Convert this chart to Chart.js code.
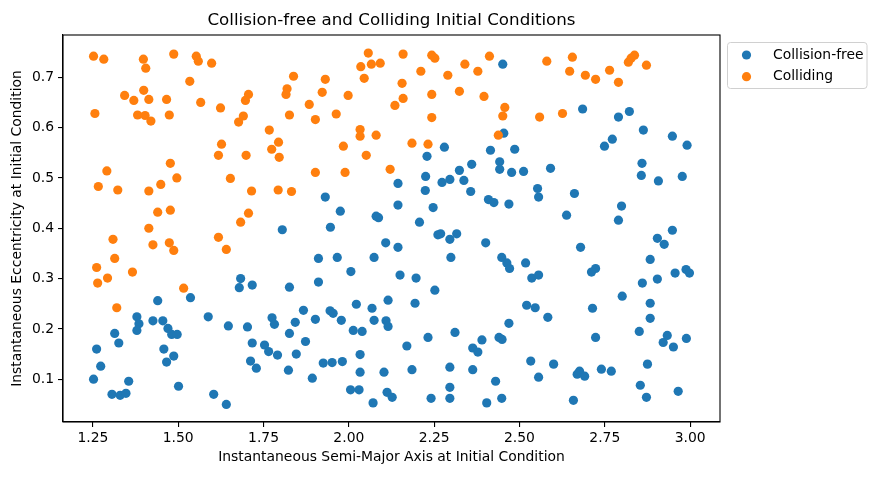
<!DOCTYPE html>
<html>
<head>
<meta charset="utf-8">
<script src="https://cdn.jsdelivr.net/npm/chart.js@4.4.1/dist/chart.umd.min.js"></script>
<style>
  html, body { margin: 0; padding: 0; background: #fff; }
  #wrap { width: 873px; height: 480px; }
</style>
</head>
<body>
<div id="wrap"><canvas id="scatterChart" width="873" height="480"></canvas></div>
<script>
// semi-major axis / eccentricity
const freeA = [1.805,1.683,1.679,1.717,1.536,1.440,1.379,1.385,1.379,1.426,1.455,1.470,1.481,1.497,1.314,1.326,1.261,1.273,1.252,1.355,1.306,1.330,1.347,1.458,1.487,1.466,1.501,1.588,1.647,1.703,1.775,1.782,1.717,1.753,1.765,1.791,1.712,1.729,1.604,1.641,
  2.280,2.229,2.415,2.360,2.324,2.225,2.144,2.273,2.296,2.337,2.224,2.357,1.931,2.409,2.425,2.144,2.247,1.975,2.080,2.087,2.207,1.946,
  2.261,2.269,2.296,2.316,2.108,2.144,2.401,1.911,1.966,2.074,2.299,2.006,2.150,2.197,1.826,1.911,2.252,2.022,2.068,2.115,2.194,1.867,1.945,1.954,1.978,1.902,1.843,2.074,2.109,2.115,2.013,2.039,1.826,1.873,2.311,2.232,2.170,2.390,2.363,2.378,1.846,1.823,1.893,1.925,1.951,1.981,2.033,2.033,2.103,2.185,2.296,2.363,2.430,2.005,2.030,2.112,2.127,2.071,2.241,2.296,2.296,2.404,
  2.451,2.685,2.790,2.822,2.863,2.948,2.991,2.454,2.772,2.749,2.486,2.442,2.442,2.477,2.512,2.591,2.859,2.857,2.907,2.977,2.553,2.556,2.661,2.469,2.799,2.638,2.790,
  2.948,2.904,2.924,2.679,2.448,2.463,2.471,2.518,2.536,2.556,2.723,2.711,2.883,2.904,2.860,2.956,2.988,2.998,2.801,2.883,2.521,2.546,2.583,2.714,2.883,2.469,2.440,2.449,2.723,2.851,2.933,2.921,2.951,2.989,2.533,2.600,2.556,2.676,2.669,2.691,2.740,2.769,2.875,2.854,2.872,2.965,2.658,2.448];
const freeE = [0.397,0.300,0.282,0.287,0.262,0.256,0.224,0.210,0.197,0.216,0.216,0.201,0.189,0.189,0.191,0.172,0.160,0.126,0.100,0.096,0.070,0.068,0.072,0.160,0.146,0.134,0.086,0.224,0.206,0.204,0.222,0.209,0.172,0.168,0.155,0.148,0.136,0.122,0.070,0.050,
  0.561,0.543,0.555,0.527,0.515,0.503,0.489,0.491,0.497,0.495,0.475,0.473,0.462,0.457,0.451,0.446,0.441,0.434,0.424,0.421,0.412,0.402,
  0.387,0.389,0.378,0.389,0.371,0.362,0.371,0.340,0.342,0.342,0.342,0.314,0.307,0.301,0.283,0.293,0.277,0.249,0.241,0.257,0.251,0.237,0.236,0.231,0.217,0.219,0.213,0.217,0.216,0.205,0.197,0.195,0.191,0.175,0.193,0.183,0.166,0.178,0.162,0.154,0.150,0.118,0.102,0.132,0.133,0.135,0.149,0.114,0.114,0.119,0.124,0.119,0.096,0.079,0.079,0.074,0.064,0.053,0.062,0.084,0.062,0.053,
  0.726,0.637,0.621,0.632,0.595,0.583,0.565,0.589,0.577,0.563,0.557,0.532,0.517,0.511,0.513,0.519,0.529,0.505,0.494,0.503,0.479,0.462,0.469,0.448,0.444,0.426,0.416,
  0.396,0.380,0.368,0.362,0.342,0.331,0.320,0.331,0.301,0.307,0.320,0.313,0.338,0.299,0.291,0.311,0.318,0.311,0.265,0.251,0.247,0.242,0.223,0.241,0.221,0.211,0.183,0.179,0.183,0.195,0.187,0.173,0.164,0.181,0.136,0.130,0.104,0.116,0.110,0.106,0.120,0.116,0.130,0.088,0.064,0.076,0.058,0.062];

const collA = [1.252,1.282,1.398,1.405,1.487,1.553,1.559,1.598,1.534,1.399,1.343,1.370,1.414,1.466,1.566,1.706,1.697,1.256,1.381,1.403,1.420,1.474,1.624,1.691,1.677,1.767,1.794,1.774,1.796,1.627,1.618,1.699,1.477,1.291,1.496,1.653,1.266,1.323,1.414,1.449,1.715,1.793,1.440,1.477,1.706,1.683,1.414,
  1.309,1.426,1.474,1.487,1.618,1.641,1.314,1.261,1.293,1.366,1.264,1.516,1.320,
  1.838,1.819,1.816,1.826,1.884,1.902,1.922,1.931,1.963,1.998,2.035,2.057,2.066,2.092,2.045,2.159,2.156,2.159,2.135,2.211,2.243,2.252,2.243,2.243,2.290,2.340,2.324,2.378,2.396,2.412,2.033,2.033,2.080,1.984,2.051,2.185,2.232,1.902,1.989,2.121,1.832,
  2.580,2.655,2.647,2.693,2.723,2.764,2.790,2.819,2.827,2.837,2.872,2.457,2.451,2.438,2.559,2.626];
const collE = [0.742,0.736,0.736,0.718,0.746,0.742,0.732,0.728,0.692,0.674,0.664,0.654,0.656,0.656,0.650,0.666,0.654,0.628,0.625,0.624,0.613,0.625,0.639,0.623,0.611,0.595,0.571,0.557,0.541,0.567,0.545,0.545,0.529,0.514,0.500,0.499,0.483,0.476,0.474,0.487,0.474,0.476,0.432,0.436,0.430,0.412,0.400,
  0.378,0.367,0.371,0.356,0.382,0.358,0.340,0.322,0.301,0.313,0.291,0.281,0.242,
  0.702,0.677,0.666,0.625,0.646,0.616,0.670,0.696,0.627,0.664,0.721,0.748,0.726,0.728,0.698,0.746,0.688,0.658,0.644,0.712,0.744,0.738,0.666,0.620,0.704,0.726,0.672,0.712,0.662,0.742,0.596,0.583,0.585,0.563,0.545,0.569,0.567,0.511,0.511,0.517,0.473,
  0.732,0.740,0.712,0.704,0.696,0.714,0.690,0.730,0.738,0.744,0.724,0.640,0.623,0.585,0.621,0.628];

const xTicks = [1.25, 1.50, 1.75, 2.00, 2.25, 2.50, 2.75, 3.00];
const yTicks = [0.1, 0.2, 0.3, 0.4, 0.5, 0.6, 0.7];
const seriesNames = ['Collision-free', 'Colliding'];
const seriesColors = ['#1f77b4', '#ff7f0e'];

const FONT = '"DejaVu Sans", sans-serif';

function toPoints(xs, ys) {
    return xs.map((x, i) => ({ x: x, y: ys[i] }));
}

// frame, title, axis labels and legend, placed like the matplotlib figure
const decorations = {
    id: 'decorations',
    afterDraw(chart) {
        const c = chart.ctx;
        const a = chart.chartArea;
        c.save();
        c.strokeStyle = '#000';
        c.lineWidth = 1.1;
        c.strokeRect(a.left, a.top, a.right - a.left, a.bottom - a.top);

        c.fillStyle = '#000';
        c.textAlign = 'center';
        c.textBaseline = 'middle';
        c.font = '16.7px ' + FONT;
        c.fillText('Collision-free and Colliding Initial Conditions', (a.left + a.right) / 2, 21);

        c.font = '13.9px ' + FONT;
        c.fillText('Instantaneous Semi-Major Axis at Initial Condition', (a.left + a.right) / 2, 457);
        c.save();
        c.translate(17, (a.top + a.bottom) / 2);
        c.rotate(-Math.PI / 2);
        c.fillText('Instantaneous Eccentricity at Initial Condition', 0, 0);
        c.restore();

        // legend box
        const lx = 727.5, ly = 42.5, lw = 139.5, lh = 46, r = 3;
        c.beginPath();
        c.moveTo(lx + r, ly);
        c.arcTo(lx + lw, ly, lx + lw, ly + lh, r);
        c.arcTo(lx + lw, ly + lh, lx, ly + lh, r);
        c.arcTo(lx, ly + lh, lx, ly, r);
        c.arcTo(lx, ly, lx + lw, ly, r);
        c.closePath();
        c.fillStyle = 'rgba(255,255,255,0.8)';
        c.fill();
        c.strokeStyle = '#d0d0d0';
        c.lineWidth = 1;
        c.stroke();

        c.textAlign = 'left';
        seriesNames.forEach((name, i) => {
            const y = 55 + i * 21.7;
            c.beginPath();
            c.arc(746.5, y, 4.6, 0, Math.PI * 2);
            c.fillStyle = seriesColors[i];
            c.fill();
            c.fillStyle = '#000';
            c.fillText(name, 773, y);
        });
        c.restore();
    }
};

const ctx = document.getElementById('scatterChart').getContext('2d');
const myChart = new Chart(ctx, {
    type: 'scatter',
    data: {
        datasets: [{
            label: seriesNames[0],
            data: toPoints(freeA, freeE),
            backgroundColor: seriesColors[0],
            pointRadius: 4.6,
            pointHoverRadius: 4.6,
            borderWidth: 0,
            order: 2
        }, {
            label: seriesNames[1],
            data: toPoints(collA, collE),
            backgroundColor: seriesColors[1],
            pointRadius: 4.6,
            pointHoverRadius: 4.6,
            borderWidth: 0,
            order: 1
        }]
    },
    options: {
        responsive: false,
        animation: false,
        devicePixelRatio: 1,
        events: [],
        layout: {
            padding: { left: 0, right: 153, top: 35, bottom: 0 }
        },
        plugins: {
            legend: { display: false },
            title: { display: false },
            tooltip: { enabled: false }
        },
        scales: {
            x: {
                type: 'linear',
                min: 1.1625,
                max: 3.0875,
                afterBuildTicks: (scale) => { scale.ticks = xTicks.map(v => ({ value: v })); },
                afterFit: (scale) => { scale.height = 58; },
                ticks: {
                    color: '#000',
                    padding: 3,
                    maxRotation: 0,
                    font: { family: FONT, size: 13.9 },
                    callback: (v) => Number(v).toFixed(2)
                },
                grid: { drawOnChartArea: false, drawTicks: true, tickLength: 5, color: '#000', lineWidth: 1.1 },
                border: { display: true, color: '#000', width: 1.1 }
            },
            y: {
                type: 'linear',
                min: 0.015,
                max: 0.784,
                afterBuildTicks: (scale) => { scale.ticks = yTicks.map(v => ({ value: v })); },
                afterFit: (scale) => { scale.width = 63; },
                ticks: {
                    color: '#000',
                    padding: 4,
                    font: { family: FONT, size: 13.9 },
                    callback: (v) => Number(v).toFixed(1)
                },
                grid: { drawOnChartArea: false, drawTicks: true, tickLength: 5, color: '#000', lineWidth: 1.1 },
                border: { display: true, color: '#000', width: 1.1 }
            }
        }
    },
    plugins: [decorations]
});
</script>
</body>
</html>
